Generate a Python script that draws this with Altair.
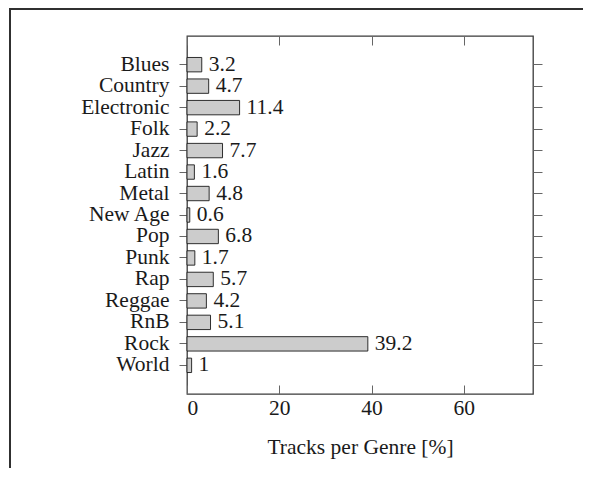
import altair as alt
import pandas as pd

genres = ["Blues", "Country", "Electronic", "Folk", "Jazz", "Latin", "Metal",
          "New Age", "Pop", "Punk", "Rap", "Reggae", "RnB", "Rock", "World"]
shares = [3.2, 4.7, 11.4, 2.2, 7.7, 1.6, 4.8, 0.6, 6.8, 1.7, 5.7, 4.2, 5.1, 39.2, 1]
x_ticks = [0, 20, 40, 60]

df = pd.DataFrame({"genre": genres, "share": shares})

FONT = "Liberation Serif"
FS = 21.5
W, H = 346, 358
PAD = {"left": 179, "top": 28, "right": 50, "bottom": 74}

xscale = alt.Scale(domain=[0, 75], nice=False, zero=True)
yscale = alt.Scale(paddingInner=0.33, paddingOuter=1.0)

bars = alt.Chart(df).mark_bar(fill="#cccccc", stroke="#1a1a1a", strokeWidth=0.9).encode(
    x=alt.X("share:Q", scale=xscale,
            axis=alt.Axis(orient="bottom", offset=-9, tickSize=9, values=x_ticks,
                          domain=False, grid=False, labelPadding=3,
                          title="Tracks per Genre [%]", titlePadding=18)),
    y=alt.Y("genre:N", sort=genres, scale=yscale,
            axis=alt.Axis(orient="left", tickSize=8, labelPadding=10, domain=False,
                          grid=False, title=None)),
)

labels = alt.Chart(df).mark_text(align="left", baseline="middle", dx=7,
                                 font=FONT, fontSize=FS, color="#1a1a1a").encode(
    x=alt.X("share:Q", scale=xscale,
            axis=alt.Axis(orient="top", offset=-9, tickSize=9, values=x_ticks,
                          labels=False, domain=False, grid=False, title=None)),
    y=alt.Y("genre:N", sort=genres, scale=yscale,
            axis=alt.Axis(orient="right", tickSize=9, labels=False, domain=False,
                          grid=False, title=None)),
    text=alt.Text("share:Q"),
)

frame_df = pd.DataFrame({"k": [0]})
frame_left = alt.Chart(frame_df).mark_rule(color="#303030", strokeWidth=2).encode(
    x=alt.value(-177), y=alt.value(-28), y2=alt.value(H + PAD["bottom"])
)
frame_top = alt.Chart(frame_df).mark_rule(color="#303030", strokeWidth=2).encode(
    x=alt.value(-178), x2=alt.value(W + PAD["right"]), y=alt.value(-27)
)

chart = alt.layer(frame_left, frame_top, bars, labels).resolve_axis(
    x="independent", y="independent"
).properties(
    width=W, height=H, autosize=alt.AutoSizeParams(type="none"), padding=PAD
).configure_view(
    stroke="#3a3a3a", strokeWidth=1.3
).configure_axis(
    labelFont=FONT, titleFont=FONT, labelFontSize=FS, titleFontSize=FS,
    titleFontWeight="normal", labelColor="#1a1a1a", titleColor="#1a1a1a",
    tickColor="#666666", tickWidth=1
)

chart.save("out.html", embed_options={"renderer": "svg", "actions": False})
